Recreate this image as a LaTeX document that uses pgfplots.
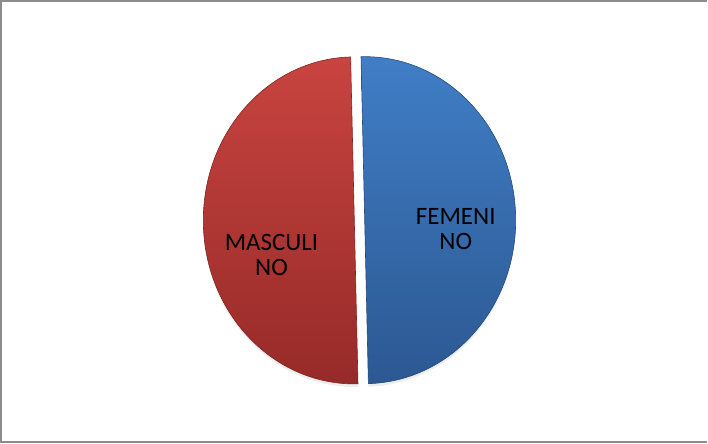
\documentclass[border=0pt]{standalone}
\usepackage{pgfplots}
\pgfplotsset{compat=1.18}
\usepackage{pgfplotstable}
\usepackage{fontspec}
\setmainfont{Carlito}
\pgfplotstableread{
label value
FEMENINO 50
MASCULINO 50
}\piedata
\definecolor{redtop}{RGB}{200,68,64}
\definecolor{redbot}{RGB}{150,42,40}
\definecolor{bluetop}{RGB}{64,126,198}
\definecolor{bluebot}{RGB}{44,88,146}
\definecolor{framegray}{RGB}{140,140,140}
\begin{document}
\begin{tikzpicture}
\pgfplotstablegetelem{0}{value}\of\piedata \let\vf\pgfplotsretval
\pgfplotstablegetelem{1}{value}\of\piedata \let\vm\pgfplotsretval
\pgfmathsetmacro\pf{\vf/(\vf+\vm)}
\pgfmathsetmacro\pm{\vm/(\vf+\vm)}
\pgfmathsetmacro\sA{90+1.4}
\pgfmathsetmacro\eA{\sA-\pf*360}
\pgfmathsetmacro\eB{\eA-\pm*360}
\pgfmathsetmacro\midF{(\sA+\eA)/2}
\pgfmathsetmacro\midM{(\eA+\eB)/2}
\pgfmathsetmacro\cx{360.5}
\pgfmathsetmacro\cy{223.5}
\pgfmathsetmacro\dd{5.2}
\pgfmathsetmacro\fx{\cx+\dd*cos(\midF)}
\pgfmathsetmacro\fy{\cy+\dd*sin(\midF)}
\pgfmathsetmacro\mx{\cx+\dd*cos(\midM)}
\pgfmathsetmacro\my{\cy+\dd*sin(\midM)}
\begin{axis}[scale only axis, width=708pt, height=444pt,
  xmin=0, xmax=708, ymin=0, ymax=444, hide axis, clip=false]
% frame (left, top, bottom)
\draw[framegray, line width=2pt] (axis cs:708,442.8) -- (axis cs:2,442.8) -- (axis cs:2,1.5) -- (axis cs:708,1.5);
% shadows
\fill[black, opacity=0.07] (axis cs:\fx,\fy-3) -- ++(\sA:151pt and 163.5pt)
  arc[start angle=\sA, end angle=\eA, x radius=151pt, y radius=163.5pt] -- cycle;
\fill[black, opacity=0.07] (axis cs:\mx,\my-3) -- ++(\eA:151pt and 163.5pt)
  arc[start angle=\eA, end angle=\eB, x radius=151pt, y radius=163.5pt] -- cycle;
% FEMENINO slice
\path[top color=bluetop, bottom color=bluebot, draw=bluebot!85!black, line width=0.6pt]
  (axis cs:\fx,\fy) -- ++(\sA:151pt and 163.5pt)
  arc[start angle=\sA, end angle=\eA, x radius=151pt, y radius=163.5pt] -- cycle;
% MASCULINO slice
\path[top color=redtop, bottom color=redbot, draw=redbot!85!black, line width=0.6pt]
  (axis cs:\mx,\my) -- ++(\eA:151pt and 163.5pt)
  arc[start angle=\eA, end angle=\eB, x radius=151pt, y radius=163.5pt] -- cycle;
% labels
\node[align=center, font=\fontsize{25}{25}\selectfont, inner sep=0pt] at (axis cs:272.5,188.5) {MASCULI\\NO};
\node[align=center, font=\fontsize{25}{25}\selectfont, inner sep=0pt] at (axis cs:456.7,215) {FEMENI\\NO};
\end{axis}
\end{tikzpicture}
\end{document}
